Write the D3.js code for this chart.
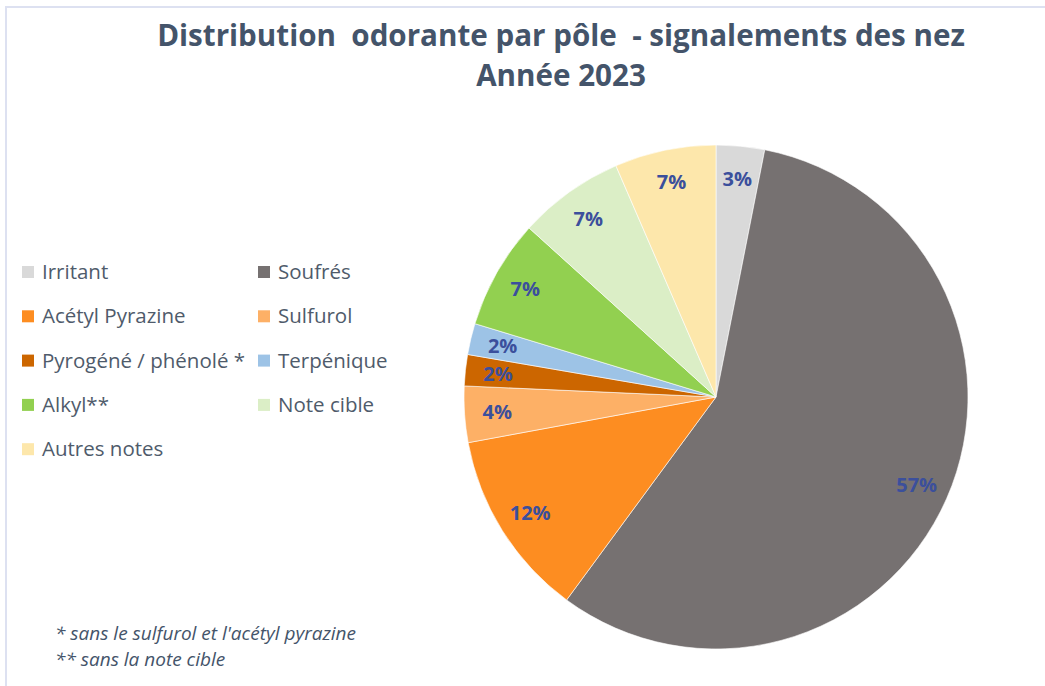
<!DOCTYPE html>
<html>
<head>
<meta charset="utf-8">
<script src="https://cdn.jsdelivr.net/npm/d3@7"></script>
<style>
  body { margin: 0; background: #fff; }
  svg { display: block; }
</style>
</head>
<body>
<svg width="1045" height="686"></svg>
<script>
// parts (percent of signalements)
const categories = ["Irritant", "Soufrés", "Acétyl Pyrazine", "Sulfurol", "Pyrogéné / phénolé *",
                    "Terpénique", "Alkyl**", "Note cible", "Autres notes"];
const values = [3.1, 57.0, 12.0, 3.6, 2.0, 2.0, 7.0, 6.8, 6.5];
const colors = ["#d9d9d9", "#767171", "#fd8d21", "#fdb066", "#cc6600",
                "#9dc3e6", "#92d050", "#dbeec6", "#fde7ab"];
const titleLines = ["Distribution  odorante par pôle  - signalements des nez", "Année 2023"];
const footnotes = ["* sans le sulfurol et l'acétyl pyrazine", "** sans la note cible"];

let svg = d3.select("svg"),
    width = +svg.attr("width"),
    height = +svg.attr("height");

// chart frame (top and left edge visible)
svg.append("path")
    .attr("d", "M6,686 V7 H1045")
    .attr("fill", "none")
    .attr("stroke", "#dde1f1")
    .attr("stroke-width", 2);

// title
svg.append("g")
    .selectAll("text")
    .data(titleLines)
    .enter().append("text")
    .attr("x", 561)
    .attr("y", (d, i) => 46 + i * 40)
    .attr("text-anchor", "middle")
    .attr("font-family", "'Liberation Sans Narrow', 'Open Sans', sans-serif")
    .attr("font-weight", "bold")
    .attr("font-size", 29.6)
    .attr("fill", "#44546a")
    .style("white-space", "pre")
    .text(d => d);

// pie
let cx = 716, cy = 397, radius = 252;
let total = d3.sum(values);
let data = categories.map((c, i) => ({ name: c, value: values[i], color: colors[i] }));

let pie = d3.pie().sort(null).value(d => d.value);
let arc = d3.arc().innerRadius(0).outerRadius(radius);
let labelArc = d3.arc().innerRadius(radius * 0.87).outerRadius(radius * 0.87);

let chart = svg.append("g").attr("transform", `translate(${cx},${cy})`);

chart.selectAll("path")
    .data(pie(data))
    .enter().append("path")
    .attr("d", arc)
    .attr("fill", d => d.data.color)
    .attr("stroke", "#fff")
    .attr("stroke-width", 0.6);

chart.selectAll("text")
    .data(pie(data))
    .enter().append("text")
    .attr("transform", d => `translate(${labelArc.centroid(d)})`)
    .attr("text-anchor", "middle")
    .attr("dy", "0.35em")
    .attr("font-family", "'Open Sans', sans-serif")
    .attr("font-weight", "bold")
    .attr("font-size", 20)
    .attr("fill", "#3b4f9c")
    .text(d => Math.round(d.data.value / total * 100) + "%");

// legend, two columns
let legend = svg.append("g")
    .selectAll("g")
    .data(data)
    .enter().append("g")
    .attr("transform", (d, i) => `translate(${i % 2 ? 258 : 22},${272 + Math.floor(i / 2) * 44.3})`);

legend.append("rect")
    .attr("x", 0)
    .attr("y", -6)
    .attr("width", 12)
    .attr("height", 12)
    .attr("fill", d => d.color);

legend.append("text")
    .attr("x", 20)
    .attr("dy", "0.35em")
    .attr("font-family", "'Open Sans', sans-serif")
    .attr("font-size", 20.5)
    .attr("fill", "#4f5b6b")
    .text(d => d.name);

// footnotes
svg.append("g")
    .selectAll("text")
    .data(footnotes)
    .enter().append("text")
    .attr("x", 55)
    .attr("y", (d, i) => 640 + i * 26)
    .attr("font-family", "'Open Sans', sans-serif")
    .attr("font-style", "italic")
    .attr("font-size", 19)
    .attr("fill", "#44546a")
    .text(d => d);
</script>
</body>
</html>
